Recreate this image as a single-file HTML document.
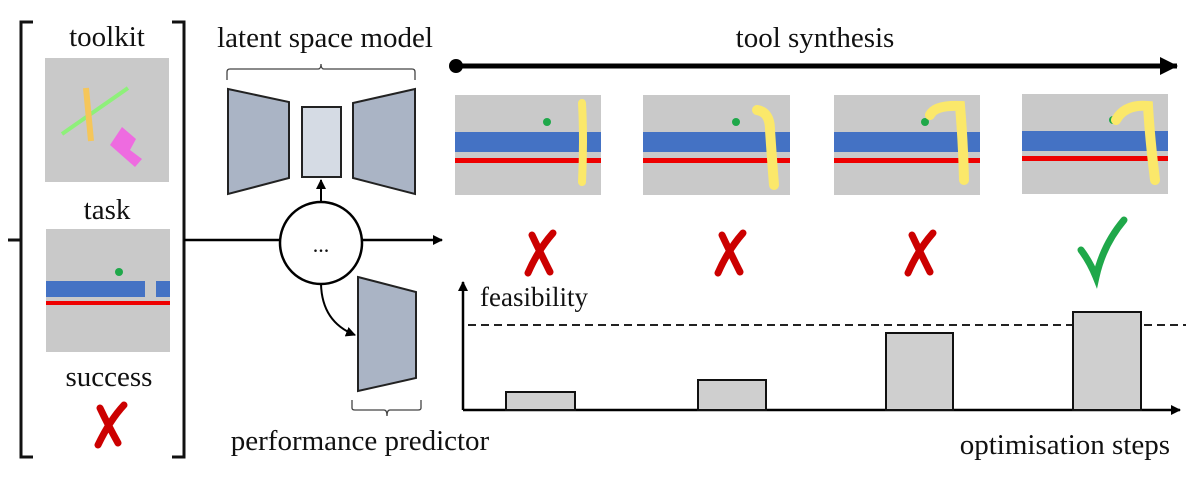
<!DOCTYPE html>
<html><head><meta charset="utf-8"><style>
html,body{margin:0;padding:0;background:#fff;width:1200px;height:480px;overflow:hidden}
svg text{font-family:"Liberation Serif",serif;fill:#111}
</style></head><body>
<svg width="1200" height="480" viewBox="0 0 1200 480" xmlns="http://www.w3.org/2000/svg">
<defs>
<marker id="ah" markerWidth="10" markerHeight="10" refX="9" refY="5" orient="auto" markerUnits="userSpaceOnUse"><path d="M0,0 L10,5 L0,10 z" fill="#000"/></marker>
<marker id="ahb" markerWidth="18" markerHeight="18" refX="17" refY="9" orient="auto" markerUnits="userSpaceOnUse"><path d="M0,0 L18,9 L0,18 z" fill="#000"/></marker>
</defs>
<!-- left bracket -->
<path d="M33,22 H21 V457 H33" fill="none" stroke="#111" stroke-width="3"/>
<path d="M8,240 H21" stroke="#111" stroke-width="3"/>
<path d="M172,22 H184 V457 H172" fill="none" stroke="#111" stroke-width="3"/>
<text x="107" y="46" font-size="29" text-anchor="middle">toolkit</text>
<rect x="45" y="58" width="124" height="124" fill="#c9c9c9"/>
<line x1="62" y1="134" x2="128" y2="88" stroke="#8ef07a" stroke-width="4"/>
<line x1="86" y1="88" x2="91" y2="141" stroke="#f5c65a" stroke-width="6"/>
<path d="M110,145 L122,127 L136,139 L130,150 L142,159 L135,167 z" fill="#ee6be0"/>
<text x="107" y="219" font-size="29" text-anchor="middle">task</text>
<rect x="46" y="229" width="124" height="123" fill="#c9c9c9"/>
<rect x="46" y="281" width="99" height="16" fill="#4472c4"/>
<rect x="156" y="281" width="14" height="16" fill="#4472c4"/>
<rect x="46" y="301" width="124" height="4" fill="#e00"/>
<circle cx="119" cy="272" r="4" fill="#1fa84a"/>
<text x="109" y="386" font-size="29" text-anchor="middle">success</text>
<path d="M98,445 Q110,420 124,405 M100,408 Q108,425 118,443" stroke="#c00" stroke-width="7" fill="none" stroke-linecap="round"/>
<!-- latent space model -->
<text x="325" y="47" font-size="29" text-anchor="middle">latent space model</text>
<path d="M227,80 V72 Q227,69 230,69 H318 Q321,69 321,64 Q321,69 324,69 H412 Q415,69 415,72 V80" fill="none" stroke="#444" stroke-width="1.3"/>
<path d="M228,89 L289,102 L289,178 L228,194 z" fill="#aab4c5" stroke="#222" stroke-width="2"/>
<rect x="302" y="107" width="39" height="70" fill="#d5dbe4" stroke="#222" stroke-width="2"/>
<path d="M353,103 L415,89 L415,194 L353,178 z" fill="#aab4c5" stroke="#222" stroke-width="2"/>
<line x1="321" y1="202" x2="321" y2="180" stroke="#000" stroke-width="2" marker-end="url(#ah)"/>
<line x1="184" y1="240" x2="280" y2="240" stroke="#000" stroke-width="2.5"/>
<circle cx="321" cy="243" r="41" fill="#fff" stroke="#000" stroke-width="2.5"/>
<text x="321" y="252" font-size="22" text-anchor="middle">...</text>
<line x1="362" y1="240" x2="442" y2="240" stroke="#000" stroke-width="2.5" marker-end="url(#ah)"/>
<path d="M358,277 L416,292 L416,378 L358,391 z" fill="#aab4c5" stroke="#222" stroke-width="2"/>
<path d="M321,284 Q322,322 355,335" fill="none" stroke="#000" stroke-width="2" marker-end="url(#ah)"/>
<path d="M352,400 V408 Q352,410 355,410 H384 Q387,410 387,416 Q387,410 390,410 H418 Q421,410 421,408 V400" fill="none" stroke="#444" stroke-width="1.3"/>
<text x="360" y="450" font-size="29" text-anchor="middle">performance predictor</text>
<!-- tool synthesis -->
<text x="815" y="47" font-size="29" text-anchor="middle">tool synthesis</text>
<circle cx="456" cy="66" r="7" fill="#000"/>
<line x1="456" y1="66" x2="1177" y2="66" stroke="#000" stroke-width="5" marker-end="url(#ahb)"/>
<g>
<rect x="455" y="95" width="146" height="100" fill="#c9c9c9"/>
<rect x="455" y="132" width="146" height="20" fill="#4472c4"/>
<rect x="455" y="158" width="146" height="5" fill="#e00"/>
<circle cx="547" cy="122" r="4" fill="#1fa84a"/>
<path d="M582,103 Q584,140 582,182" stroke="#fbe86a" stroke-width="8" fill="none" stroke-linecap="round"/>
</g>
<g>
<rect x="643" y="95" width="147" height="100" fill="#c9c9c9"/>
<rect x="643" y="132" width="147" height="20" fill="#4472c4"/>
<rect x="643" y="158" width="147" height="5" fill="#e00"/>
<circle cx="736" cy="122" r="4" fill="#1fa84a"/>
<path d="M757,110 Q770,112 770,130 Q772,160 774,185" stroke="#fbe86a" stroke-width="10" fill="none" stroke-linecap="round"/>
</g>
<g>
<rect x="834" y="95" width="146" height="100" fill="#c9c9c9"/>
<rect x="834" y="132" width="146" height="20" fill="#4472c4"/>
<rect x="834" y="158" width="146" height="5" fill="#e00"/>
<circle cx="925" cy="122" r="4" fill="#1fa84a"/>
<path d="M930,115 Q935,105 960,106 Q963,140 964,180" stroke="#fbe86a" stroke-width="10" fill="none" stroke-linecap="round"/>
</g>
<g>
<rect x="1022" y="94" width="146" height="100" fill="#c9c9c9"/>
<rect x="1022" y="131" width="146" height="20" fill="#4472c4"/>
<rect x="1022" y="156" width="146" height="5" fill="#e00"/>
<circle cx="1113" cy="120" r="4" fill="#1fa84a"/>
<path d="M1116,120 Q1125,104 1148,106 Q1150,140 1155,180" stroke="#fbe86a" stroke-width="10" fill="none" stroke-linecap="round"/>
</g>
<g stroke="#c00" stroke-width="7" fill="none" stroke-linecap="round">
<path d="M528,273 Q538,250 553,233 M532,235 Q540,252 550,272"/>
<path d="M718,273 Q728,250 743,233 M722,235 Q730,252 740,272"/>
<path d="M908,273 Q918,250 933,233 M912,235 Q920,252 930,272"/>
</g>
<path d="M1081,250 Q1090,262 1096,277 Q1103,245 1124,220" stroke="#1fa84a" stroke-width="7" fill="none" stroke-linecap="round"/>
<!-- chart -->
<line x1="463" y1="410" x2="463" y2="282" stroke="#000" stroke-width="2.5" marker-end="url(#ah)"/>
<line x1="463" y1="410" x2="1180" y2="410" stroke="#000" stroke-width="2.5" marker-end="url(#ah)"/>
<line x1="468" y1="325" x2="1186" y2="325" stroke="#222" stroke-width="2" stroke-dasharray="8,5"/>
<text x="480" y="306" font-size="27">feasibility</text>
<g fill="#cfcfcf" stroke="#111" stroke-width="2">
<rect x="506" y="392" width="69" height="18"/>
<rect x="698" y="380" width="68" height="30"/>
<rect x="886" y="333" width="67" height="77"/>
<rect x="1073" y="312" width="68" height="98"/>
</g>
<text x="1170" y="454" font-size="29" text-anchor="end">optimisation steps</text>
</svg>
</body></html>
